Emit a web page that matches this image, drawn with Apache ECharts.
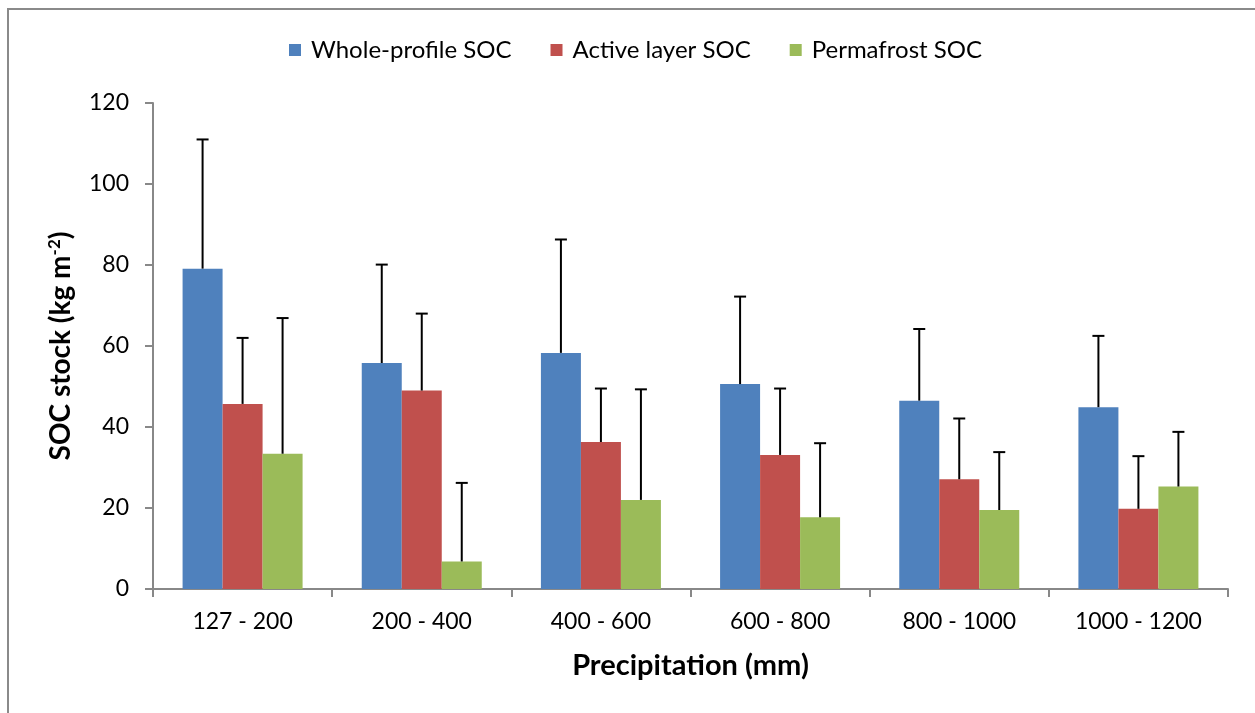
<!DOCTYPE html>
<html>
<head>
<meta charset="utf-8">
<script src="https://cdn.jsdelivr.net/npm/echarts@6/dist/echarts.min.js"></script>
<style>
html,body{margin:0;padding:0;background:#fff;}
#c{width:1255px;height:713px;}
</style>
</head>
<body>
<div id="c"></div>
<script>
var categories = ['127 - 200', '200 - 400', '400 - 600', '600 - 800', '800 - 1000', '1000 - 1200'];
var seriesNames = ['Whole-profile SOC', 'Active layer SOC', 'Permafrost SOC'];
var wholeProfile = [79.1, 55.8, 58.3, 50.6, 46.5, 44.9];
var activeLayer = [45.7, 49.0, 36.3, 33.1, 27.1, 19.8];
var permafrost = [33.4, 6.8, 22.0, 17.7, 19.5, 25.3];
var wholeProfileErr = [31.9, 24.3, 28.0, 21.6, 17.7, 17.6];
var activeLayerErr = [16.3, 19.0, 13.2, 16.4, 15.0, 13.0];
var permafrostErr = [33.5, 19.4, 27.3, 18.3, 14.3, 13.5];
var yTicks = [0, 20, 40, 60, 80, 100, 120];

var colors = ['#4F81BD', '#C0504D', '#9BBB59'];
var values = [wholeProfile, activeLayer, permafrost];
var errs = [wholeProfileErr, activeLayerErr, permafrostErr];
var FONT = 'Lato, "Open Sans", sans-serif';
var BAR_W = 40;

var chart = echarts.init(document.getElementById('c'));
var series = [];
values.forEach(function (v, i) {
  series.push({
    name: seriesNames[i],
    type: 'bar',
    data: v,
    barWidth: BAR_W,
    barGap: '0%',
    itemStyle: { color: colors[i] },
    z: 2
  });
});
values.forEach(function (v, i) {
  var data = v.map(function (val, k) { return [k, val, val + errs[i][k]]; });
  series.push({
    type: 'custom',
    name: seriesNames[i] + ' err',
    z: 5,
    renderItem: function (params, api) {
      var k = api.value(0);
      var p0 = api.coord([k, api.value(1)]);
      var p1 = api.coord([k, api.value(2)]);
      var x = p0[0] + (i - 1) * BAR_W;
      var cap = 6;
      return {
        type: 'group',
        children: [
          { type: 'line', shape: { x1: x, y1: p0[1], x2: x, y2: p1[1] }, style: { stroke: '#000', lineWidth: 2 } },
          { type: 'line', shape: { x1: x - cap, y1: p1[1], x2: x + cap, y2: p1[1] }, style: { stroke: '#000', lineWidth: 2 } }
        ]
      };
    },
    data: data,
    encode: { x: 0, y: [1, 2] },
    silent: true
  });
});

chart.setOption({
  backgroundColor: '#fff',
  animation: false,
  textStyle: { fontFamily: FONT },
  graphic: [{
    type: 'rect',
    shape: { x: 8, y: 9, width: 1260, height: 720 },
    style: { fill: 'none', stroke: '#8a8a8a', lineWidth: 2 },
    silent: true,
    z: -1
  }],
  legend: {
    data: seriesNames,
    left: 284,
    top: 33,
    itemWidth: 12,
    itemHeight: 12,
    itemGap: 39,
    icon: 'rect',
    textStyle: { fontSize: 24, color: '#000', fontFamily: FONT, padding: [0, 0, 0, 5] }
  },
  grid: { left: 153, right: 27, top: 103, bottom: 124, containLabel: false },
  xAxis: {
    type: 'category',
    data: categories,
    name: 'Precipitation (mm)',
    nameLocation: 'middle',
    nameGap: 62,
    nameTextStyle: { fontSize: 29, fontWeight: 'bold', color: '#000', fontFamily: FONT },
    axisLine: { lineStyle: { color: '#888', width: 2 } },
    axisTick: { show: true, length: 8, alignWithLabel: false, lineStyle: { color: '#888', width: 2 } },
    axisLabel: { fontSize: 23, color: '#000', margin: 21, fontFamily: FONT },
    splitLine: { show: false }
  },
  yAxis: {
    type: 'value',
    min: 0,
    max: 120,
    interval: 20,
    name: '{a|SOC stock (kg m}{s|-2}{a|)}',
    nameLocation: 'middle',
    nameGap: 78,
    nameRotate: 90,
    nameTextStyle: {
      rich: {
        a: { fontSize: 28, fontWeight: 'bold', color: '#000', fontFamily: FONT },
        s: { fontSize: 17, fontWeight: 'bold', color: '#000', fontFamily: FONT, verticalAlign: 'top', padding: [0, 0, 12, 0] }
      }
    },
    axisLine: { show: true, lineStyle: { color: '#888', width: 2 } },
    axisTick: { show: true, length: 8, lineStyle: { color: '#888', width: 2 } },
    axisLabel: {
      fontSize: 23, color: '#000', margin: 24, fontFamily: FONT,
      formatter: function (v) { return yTicks.indexOf(v) >= 0 ? String(v) : ''; }
    },
    splitLine: { show: false }
  },
  series: series
});
</script>
</body>
</html>
